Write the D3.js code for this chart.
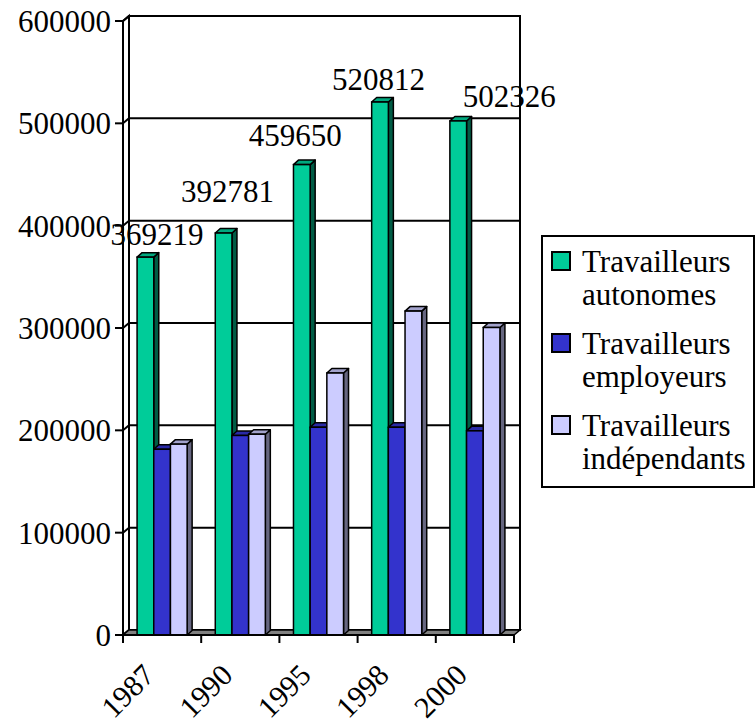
<!DOCTYPE html>
<html>
<head>
<meta charset="utf-8">
<script src="https://cdn.jsdelivr.net/npm/d3@7"></script>
<style>
  html, body { margin: 0; padding: 0; background: #ffffff; }
  svg { display: block; }
</style>
</head>
<body>
<svg id="chart" width="756" height="720"></svg>
<script>
// ---------------- data ----------------
const categories = ["1987", "1990", "1995", "1998", "2000"];
const seriesKeys = ["autonomes", "employeurs", "independants"];
const seriesLabels = [["Travailleurs", "autonomes"], ["Travailleurs", "employeurs"], ["Travailleurs", "indépendants"]];
const autonomes = [369219, 392781, 459650, 520812, 502326];
const employeurs = [181500, 195000, 203000, 203000, 199500];
const independants = [186500, 196200, 256000, 316500, 300500];
const yTickValues = [0, 100000, 200000, 300000, 400000, 500000, 600000];
const dataLabels = ["369219", "392781", "459650", "520812", "502326"];

// ---------------- layout / style ----------------
const FONT = '"Liberation Serif", "Times New Roman", serif';
const frontLeft = 123, frontRight = 514, frontBottom = 635, frontTop = 21;
const wallDX = 6, wallDY = -5;     // depth of the walls
const barDX = 5, barDY = -4.5;     // depth of the bars
const fontSize = 31;
const palette = [
  { front: "#00CC99", top: "#00A87E", side: "#005C45" },
  { front: "#3333CC", top: "#2A2AA6", side: "#1A1A66" },
  { front: "#CCCCFF", top: "#A3A3CC", side: "#666680" }
];
// small nudges of the value labels relative to their bars (px)
const labelNudge = [[11.5, -12], [4, -31], [-6.5, -18.5], [-1.5, -12], [51, -13.5]];

const values = [autonomes, employeurs, independants];

const svg = d3.select("#chart");

const x0 = d3.scaleBand().domain(categories).range([frontLeft, frontRight]).paddingInner(0).paddingOuter(0);
const x1 = d3.scaleBand().domain(seriesKeys).range([0.18 * x0.bandwidth(), 0.82 * x0.bandwidth()]).padding(0);
const y = d3.scaleLinear().domain([0, 600000]).range([frontBottom, frontTop]);

const line = (pts) => "M" + pts.map(p => p.join(",")).join("L") + "Z";
const txt = (sel) => sel.append("text").style("font-family", FONT).attr("fill", "#000");

// back wall
const g = svg.append("g");
g.append("rect")
  .attr("x", frontLeft + wallDX).attr("y", y(600000) + wallDY)
  .attr("width", frontRight - frontLeft).attr("height", y(0) - y(600000))
  .attr("fill", "#fff").attr("stroke", "#000").attr("stroke-width", 2);

// side wall
g.append("path")
  .attr("d", line([[frontLeft, y(600000)], [frontLeft + wallDX, y(600000) + wallDY],
                   [frontLeft + wallDX, y(0) + wallDY], [frontLeft, y(0)]]))
  .attr("fill", "#fff").attr("stroke", "#000").attr("stroke-width", 2);

// gridlines on back wall and side wall
yTickValues.forEach(v => {
  g.append("line")
    .attr("x1", frontLeft + wallDX).attr("x2", frontRight + wallDX)
    .attr("y1", y(v) + wallDY).attr("y2", y(v) + wallDY)
    .attr("stroke", "#000").attr("stroke-width", 2);
  g.append("line")
    .attr("x1", frontLeft).attr("x2", frontLeft + wallDX)
    .attr("y1", y(v)).attr("y2", y(v) + wallDY)
    .attr("stroke", "#000").attr("stroke-width", 2);
});

// floor
g.append("path")
  .attr("d", line([[frontLeft, y(0)], [frontRight, y(0)],
                   [frontRight + wallDX, y(0) + wallDY], [frontLeft + wallDX, y(0) + wallDY]]))
  .attr("fill", "#808080").attr("stroke", "#000").attr("stroke-width", 1.5);

// bars
const bars = svg.append("g");
categories.forEach((c, ci) => {
  seriesKeys.forEach((s, si) => {
    const v = values[si][ci];
    const xl = x0(c) + x1(s);
    const xr = xl + x1.bandwidth();
    const yt = y(v), yb = y(0);
    const col = palette[si];
    const bg = bars.append("g");
    bg.append("path")
      .attr("d", line([[xr, yt], [xr + barDX, yt + barDY], [xr + barDX, yb + barDY], [xr, yb]]))
      .attr("fill", col.side).attr("stroke", "#000").attr("stroke-width", 1.5).attr("stroke-linejoin", "round");
    bg.append("path")
      .attr("d", line([[xl, yt], [xl + barDX, yt + barDY], [xr + barDX, yt + barDY], [xr, yt]]))
      .attr("fill", col.top).attr("stroke", "#000").attr("stroke-width", 1.5).attr("stroke-linejoin", "round");
    bg.append("rect")
      .attr("x", xl).attr("y", yt).attr("width", xr - xl).attr("height", yb - yt)
      .attr("fill", col.front).attr("stroke", "#000").attr("stroke-width", 1.5);
  });
});

// front y axis
const axes = svg.append("g");
axes.append("line")
  .attr("x1", frontLeft).attr("x2", frontLeft)
  .attr("y1", y(600000)).attr("y2", y(0))
  .attr("stroke", "#000").attr("stroke-width", 2);
yTickValues.forEach(v => {
  axes.append("line")
    .attr("x1", frontLeft - 8).attr("x2", frontLeft)
    .attr("y1", y(v)).attr("y2", y(v))
    .attr("stroke", "#000").attr("stroke-width", 2);
  txt(axes)
    .attr("x", frontLeft - 12).attr("y", y(v)).attr("dy", "0.35em")
    .attr("text-anchor", "end").attr("font-size", fontSize)
    .text(d3.format("d")(v));
});

// front x axis
axes.append("line")
  .attr("x1", frontLeft - 8).attr("x2", frontRight)
  .attr("y1", y(0)).attr("y2", y(0))
  .attr("stroke", "#000").attr("stroke-width", 2);
const tickXs = categories.map(c => x0(c)).concat([frontRight]);
tickXs.forEach(tx => {
  axes.append("line")
    .attr("x1", tx).attr("x2", tx)
    .attr("y1", y(0)).attr("y2", y(0) + 8)
    .attr("stroke", "#000").attr("stroke-width", 2);
});
categories.forEach(c => {
  const cx = x0(c) + x0.bandwidth() / 2 - 6;
  const cy = y(0) + 42;
  txt(axes)
    .attr("transform", `translate(${cx},${cy}) rotate(-45)`)
    .attr("text-anchor", "end").attr("font-size", fontSize - 1)
    .text(c);
});

// value labels
categories.forEach((c, ci) => {
  const xl = x0(c) + x1(seriesKeys[0]);
  const cx = xl + x1.bandwidth() / 2 + labelNudge[ci][0];
  const cy = y(autonomes[ci]) + labelNudge[ci][1];
  txt(svg)
    .attr("x", cx).attr("y", cy)
    .attr("text-anchor", "middle").attr("font-size", fontSize)
    .text(dataLabels[ci]);
});

// legend
const lg = svg.append("g");
lg.append("rect")
  .attr("x", 542).attr("y", 236).attr("width", 212).attr("height", 251)
  .attr("fill", "#fff").attr("stroke", "#000").attr("stroke-width", 2);
seriesLabels.forEach((lbl, i) => {
  const top = 252 + i * 82;
  lg.append("rect")
    .attr("x", 552).attr("y", top).attr("width", 18).attr("height", 18)
    .attr("fill", palette[i].front).attr("stroke", "#000").attr("stroke-width", 2);
  txt(lg).attr("x", 582).attr("y", top + 20).attr("font-size", fontSize).text(lbl[0]);
  txt(lg).attr("x", 582).attr("y", top + 53).attr("font-size", fontSize).text(lbl[1]);
});
</script>
</body>
</html>
